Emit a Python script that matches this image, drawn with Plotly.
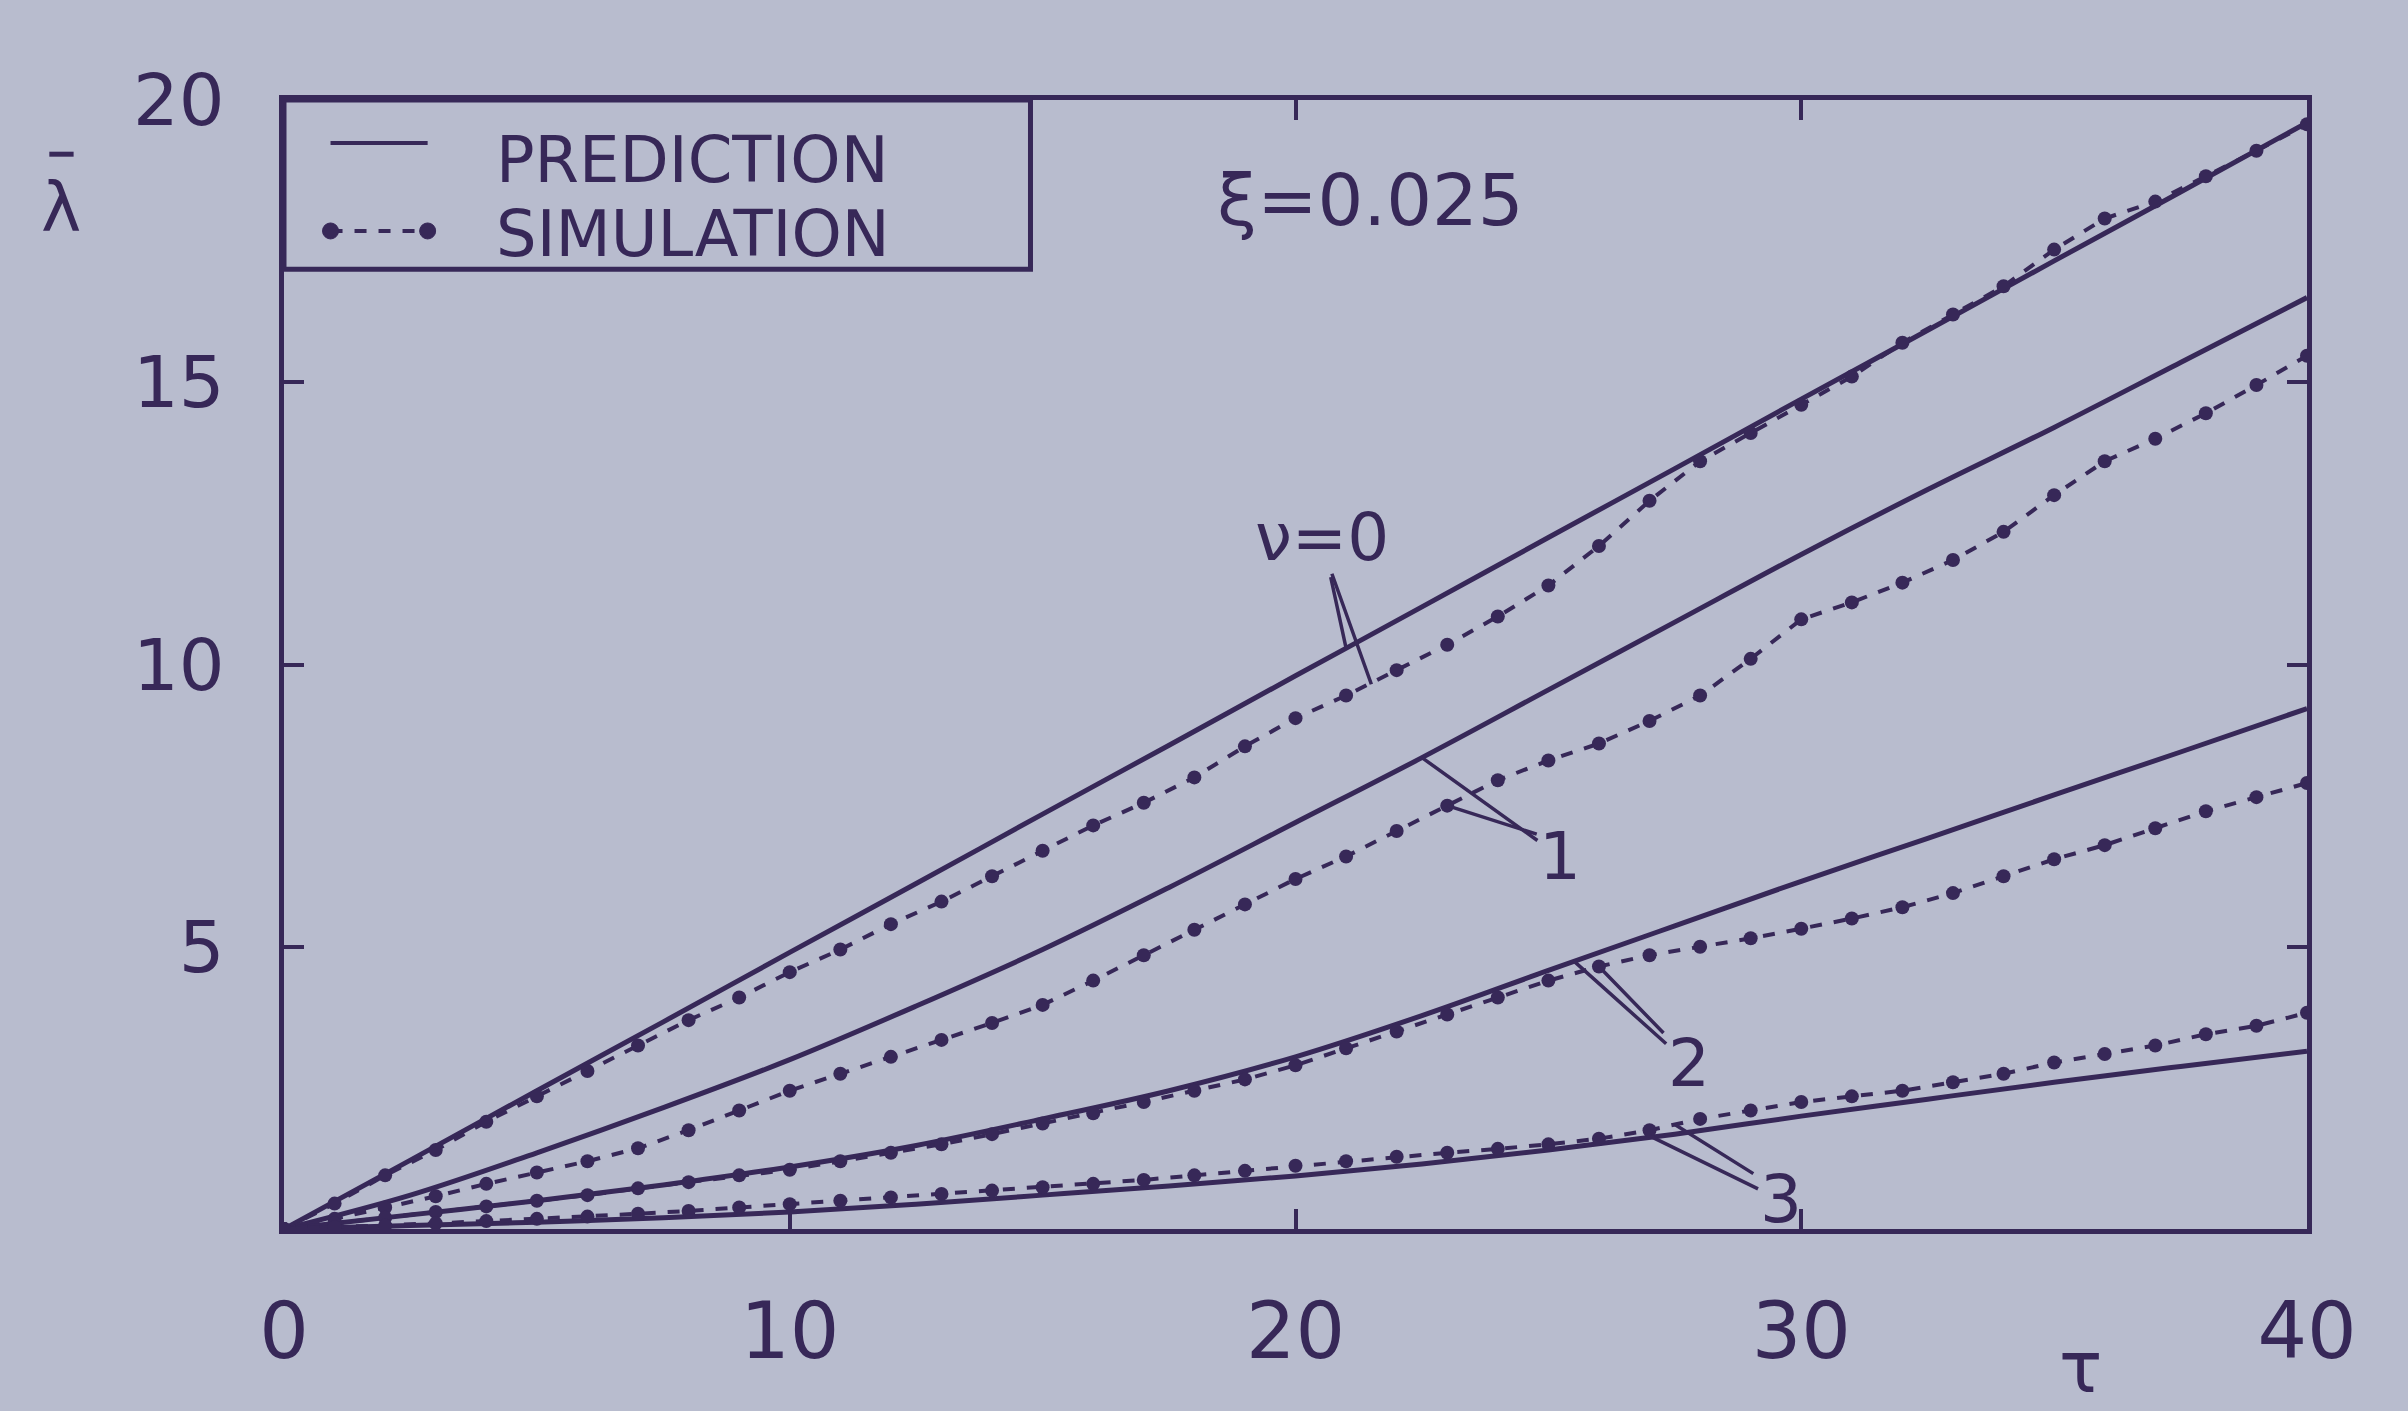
import plotly.graph_objects as go

# ---------------- data ----------------
tau_pred = [0, 2.5, 5, 7.5, 10, 12.5, 15, 17.5, 20, 22.5, 25, 27.5, 30, 32.5, 35, 37.5, 40]
pred_nu0 = [0, 1.22, 2.45, 3.67, 4.9, 6.12, 7.35, 8.57, 9.8, 11.02, 12.25, 13.47, 14.7, 15.92, 17.15, 18.37, 19.6]
pred_nu1 = [0, 0.6, 1.35, 2.15, 3.0, 3.95, 4.95, 6.05, 7.2, 8.35, 9.55, 10.75, 11.95, 13.1, 14.2, 15.35, 16.5]
pred_nu2 = [0, 0.25, 0.5, 0.78, 1.1, 1.48, 1.95, 2.45, 3.05, 3.78, 4.58, 5.37, 6.16, 6.92, 7.69, 8.45, 9.22]
pred_nu3 = [0, 0.06, 0.12, 0.2, 0.3, 0.44, 0.6, 0.76, 0.94, 1.15, 1.4, 1.68, 2.0, 2.3, 2.6, 2.88, 3.15]

tau_sim = [0, 1, 2, 3, 4, 5, 6, 7, 8, 9, 10, 11, 12, 13, 14, 15, 16, 17, 18, 19, 20,
           21, 22, 23, 24, 25, 26, 27, 28, 29, 30, 31, 32, 33, 34, 35, 36, 37, 38, 39, 40]
sim_nu0 = [0, 0.45, 0.95, 1.4, 1.9, 2.35, 2.8, 3.25, 3.7, 4.1, 4.55, 4.95, 5.4, 5.8, 6.25, 6.7,
           7.15, 7.55, 8.0, 8.55, 9.05, 9.45, 9.9, 10.35, 10.85, 11.4, 12.1, 12.9, 13.6, 14.1,
           14.6, 15.1, 15.7, 16.2, 16.7, 17.35, 17.9, 18.2, 18.65, 19.1, 19.57]
sim_nu1 = [0, 0.18, 0.38, 0.58, 0.8, 1.0, 1.2, 1.43, 1.75, 2.1, 2.45, 2.75, 3.05, 3.35, 3.65, 3.97,
           4.4, 4.85, 5.3, 5.75, 6.2, 6.6, 7.05, 7.5, 7.95, 8.3, 8.6, 9.0, 9.45, 10.1, 10.8, 11.1,
           11.45, 11.85, 12.35, 13.0, 13.6, 14.0, 14.45, 14.95, 15.47]
sim_nu2 = [0, 0.1, 0.2, 0.3, 0.4, 0.5, 0.6, 0.72, 0.83, 0.95, 1.05, 1.2, 1.35, 1.5, 1.68, 1.87,
           2.05, 2.25, 2.45, 2.65, 2.9, 3.2, 3.5, 3.8, 4.1, 4.4, 4.65, 4.85, 5.0, 5.15, 5.32,
           5.5, 5.7, 5.95, 6.25, 6.55, 6.8, 7.1, 7.4, 7.65, 7.9]
sim_nu3 = [0, 0.03, 0.06, 0.1, 0.14, 0.18, 0.22, 0.27, 0.32, 0.38, 0.44, 0.5, 0.56, 0.62, 0.68,
           0.74, 0.8, 0.87, 0.95, 1.03, 1.12, 1.2, 1.28, 1.35, 1.42, 1.5, 1.6, 1.75, 1.95, 2.1,
           2.25, 2.35, 2.45, 2.6, 2.75, 2.95, 3.1, 3.25, 3.45, 3.6, 3.83]

x_ticks = [0, 10, 20, 30, 40]
y_ticks = [5, 10, 15, 20]
y_ticktext = ["5", "10", "15", "20"]
legend_labels = ["PREDICTION", "SIMULATION"]

# ---------------- style ----------------
BG = "#B8BCCE"
INK = "#372858"
FONT = "DejaVu Sans"

fig = go.Figure()

preds = [pred_nu0, pred_nu1, pred_nu2, pred_nu3]
sims = [sim_nu0, sim_nu1, sim_nu2, sim_nu3]

for p in preds:
    fig.add_trace(go.Scatter(
        x=tau_pred, y=p, mode="lines", line=dict(color=INK, width=5, shape="spline"),
        name=legend_labels[0], showlegend=False, hoverinfo="skip"))
for s in sims:
    fig.add_trace(go.Scatter(
        x=tau_sim, y=s, mode="lines+markers",
        line=dict(color=INK, width=4, dash="dash"),
        marker=dict(color=INK, size=14, symbol="circle"),
        name=legend_labels[1], showlegend=False, hoverinfo="skip"))

axis_common = dict(
    showgrid=False, zeroline=False, showline=True, linecolor=INK, linewidth=5,
    mirror="ticks", ticks="inside", ticklen=20, tickwidth=4, tickcolor=INK,
)

fig.update_xaxes(range=[0, 40], tickvals=x_ticks, ticklabelstandoff=30,
                 tickfont=dict(family=FONT, size=78, color=INK), **axis_common)
fig.update_yaxes(range=[0, 20], tickvals=y_ticks, ticktext=y_ticktext, ticklabelstandoff=40,
                 tickfont=dict(family=FONT, size=72, color=INK), **axis_common)

lab_font = dict(family=FONT, size=66, color=INK)
arrow_kw = dict(showarrow=True, arrowhead=0, arrowwidth=3.5, arrowcolor=INK, xref="x", yref="y")

annotations = [
    dict(text="ξ=0.025", x=0.537, y=0.911, xref="paper", yref="paper", showarrow=False,
         xanchor="center", yanchor="middle", font=dict(family=FONT, size=72, color=INK)),
    dict(text="λ", x=-0.110, y=0.905, xref="paper", yref="paper", showarrow=False,
         xanchor="center", yanchor="middle", font=dict(family=FONT, size=68, color=INK)),
    dict(text="τ", x=0.888, y=-0.122, xref="paper", yref="paper", showarrow=False,
         xanchor="center", yanchor="middle", font=dict(family=FONT, size=72, color=INK)),
    # legend texts
    dict(text=legend_labels[0], x=0.104, y=0.947, xref="paper", yref="paper", showarrow=False,
         xanchor="left", yanchor="middle", font=dict(family=FONT, size=64, color=INK)),
    dict(text=legend_labels[1], x=0.104, y=0.881, xref="paper", yref="paper", showarrow=False,
         xanchor="left", yanchor="middle", font=dict(family=FONT, size=64, color=INK)),
    # curve labels with split pointers
    dict(text="ν=0", x=21, y=10.29, ax=-24, ay=-111, font=lab_font, **arrow_kw),
    dict(text="", x=21.5, y=9.65, ax=-40, ay=-112, **arrow_kw),
    dict(text="1", x=22.5, y=8.35, ax=138, ay=99, font=lab_font, **arrow_kw),
    dict(text="", x=23, y=7.5, ax=91, ay=29, **arrow_kw),
    dict(text="2", x=25.5, y=4.75, ax=115, ay=103, font=lab_font, **arrow_kw),
    dict(text="", x=26, y=4.65, ax=66, ay=68, **arrow_kw),
    dict(text="3", x=27, y=1.65, ax=131, ay=64, font=lab_font, **arrow_kw),
    dict(text="", x=27.5, y=1.85, ax=80, ay=50, **arrow_kw),
]

rx = 8 / 2023
ry = 8 / 1129
shapes = [
    # overbar of the lambda axis label
    dict(type="line", xref="paper", yref="paper", x0=-0.116, x1=-0.104, y0=0.952, y1=0.952,
         line=dict(color=INK, width=5)),
    # legend box
    dict(type="rect", xref="paper", yref="paper", x0=0, x1=0.369, y0=0.850, y1=1,
         line=dict(color=INK, width=5), fillcolor=BG, layer="above"),
    # legend samples
    dict(type="line", xref="paper", yref="paper", x0=0.023, x1=0.071, y0=0.962, y1=0.962,
         line=dict(color=INK, width=4)),
    dict(type="line", xref="paper", yref="paper", x0=0.023, x1=0.071, y0=0.884, y1=0.884,
         line=dict(color=INK, width=4, dash="dash")),
    dict(type="circle", xref="paper", yref="paper", x0=0.023 - rx, x1=0.023 + rx,
         y0=0.884 - ry, y1=0.884 + ry, fillcolor=INK, line=dict(color=INK, width=1)),
    dict(type="circle", xref="paper", yref="paper", x0=0.071 - rx, x1=0.071 + rx,
         y0=0.884 - ry, y1=0.884 + ry, fillcolor=INK, line=dict(color=INK, width=1)),
]

fig.update_layout(
    width=2408, height=1411,
    margin=dict(l=284, r=101, t=100, b=182),
    paper_bgcolor=BG, plot_bgcolor=BG,
    font=dict(family=FONT, color=INK),
    showlegend=False,
    annotations=annotations,
    shapes=shapes,
)

fig.write_html("out.html")
